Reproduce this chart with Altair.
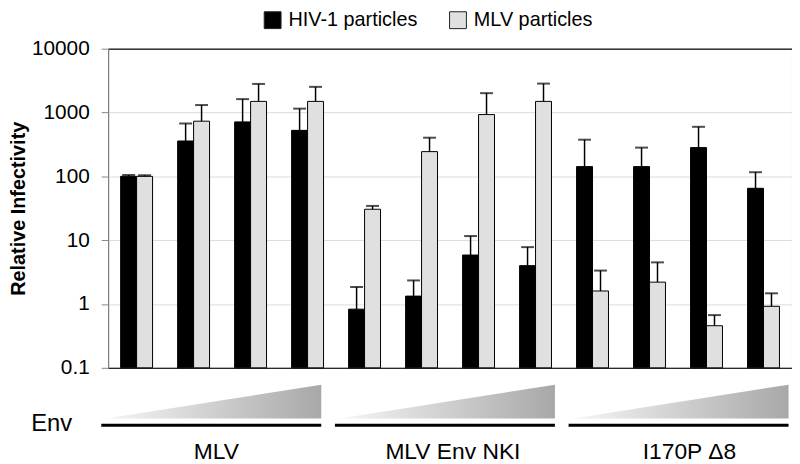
import altair as alt
import pandas as pd

# ---- data ----
env_groups = ["MLV", "MLV Env NKI", "I170P \u03948"]
doses = [1, 2, 3, 4]
series = ["HIV-1 particles", "MLV particles"]
hiv = [100, 358, 713, 525, 0.83, 1.33, 5.85, 3.99, 142, 142, 282, 65]
hiv_err = [105, 673, 1621, 1150, 1.84, 2.34, 11.6, 7.78, 375, 282, 597, 116]
mlv = [100, 731, 1493, 1493, 30.5, 244, 929, 1493, 1.60, 2.20, 0.457, 0.92]
mlv_err = [104, 1309, 2805, 2523, 34.4, 403, 2010, 2838, 3.34, 4.49, 0.67, 1.47]
y_ticks = [0.1, 1, 10, 100, 1000, 10000]

conds = [f"{g} | {d}" for g in env_groups for d in doses]
rows = []
for i, c in enumerate(conds):
    rows.append(dict(cond=c, series=series[0], value=hiv[i], err=hiv_err[i]))
    rows.append(dict(cond=c, series=series[1], value=mlv[i], err=mlv_err[i]))
df = pd.DataFrame(rows)

W, H = 690, 322
FONT = "Liberation Sans"
n_slots = len(conds)

# ---- main bars ----
xs = alt.Scale(paddingInner=0.44, paddingOuter=0.22)
x = alt.X("cond:N", sort=conds, axis=None, scale=xs)
xo = alt.XOffset("series:N", sort=series, scale=alt.Scale(paddingInner=0, paddingOuter=0))
ys = alt.Scale(type="log", domain=[0.1, 10000], nice=False)
grid_color = {"condition": {"test": "datum.value >= 10000 || datum.value <= 0.1", "value": "#222"},
              "value": "#dcdcdc"}
yaxis = alt.Axis(values=y_ticks, format="~g", title="Relative Infectivity",
                 titleFont=FONT, titleFontSize=20, titleFontWeight="bold", titleColor="black",
                 titlePadding=3, labelFont=FONT, labelFontSize=21, labelColor="black",
                 labelPadding=12, tickSize=7, tickColor="#888", domainColor="#888",
                 gridColor=grid_color, grid=True)

bars = alt.Chart(df).mark_bar(stroke="black", strokeWidth=1).encode(
    x=x, xOffset=xo,
    y=alt.Y("value:Q", scale=ys, axis=yaxis, stack=None),
    y2=alt.value(H),
    color=alt.Color("series:N", scale=alt.Scale(domain=series, range=["#000000", "#e0e0e0"]),
                    legend=alt.Legend(title=None, orient="none", legendX=156, legendY=-39,
                                      direction="horizontal", symbolType="square", symbolSize=289,
                                      symbolStrokeColor="#222", symbolStrokeWidth=1,
                                      labelFont=FONT, labelFontSize=20, labelColor="black",
                                      columnPadding=29, labelOffset=6, padding=0)),
)
rules = alt.Chart(df).mark_rule(color="black", strokeWidth=1.5).encode(
    x=x, xOffset=xo,
    y=alt.Y("value:Q", scale=ys, axis=yaxis), y2="err:Q",
)
caps = alt.Chart(df).mark_tick(color="black", thickness=2, size=13, orient="horizontal").encode(
    x=x, xOffset=xo,
    y=alt.Y("err:Q", scale=ys, axis=yaxis),
)
main = alt.layer(bars, rules, caps)

# ---- Env wedges / group lines below the plot (layout in slot units and pixels) ----
wedge_rows, line_rows, lab_rows = [], [], []
for g, name in enumerate(env_groups):
    left = 4.1 * g - 0.12
    right = 4.1 * g + 3.74
    wedge_rows.append(dict(grp=name, x=left + 0.08, top=51, bot=51))
    wedge_rows.append(dict(grp=name, x=right, top=17, bot=51))
    line_rows.append(dict(grp=name, x=left, x2=right, y=58))
    lab_rows.append(dict(grp=name, x=4.15 * g + 1.9, y=85))
wedges_df = pd.DataFrame(wedge_rows)
lines_df = pd.DataFrame(line_rows)
labs_df = pd.DataFrame(lab_rows)
env_df = pd.DataFrame([dict(t="Env", x=-0.99, y=57)])

dx = alt.Scale(domain=[0, n_slots], nice=False, zero=False)
dy = alt.Scale(domain=[0, 100], range=[H, H + 100], nice=False, zero=False)

grad = alt.Gradient(gradient="linear",
                    stops=[alt.GradientStop(color="#f6f6f6", offset=0),
                           alt.GradientStop(color="#a8a8a8", offset=1)],
                    x1=0, x2=1, y1=0, y2=0)
wedges = alt.Chart(wedges_df).mark_area(color=grad, line=False).encode(
    x=alt.X("x:Q", scale=dx, axis=None),
    y=alt.Y("top:Q", scale=dy, axis=None), y2="bot:Q",
    detail="grp:N",
)
glines = alt.Chart(lines_df).mark_rule(color="black", strokeWidth=3).encode(
    x=alt.X("x:Q", scale=dx, axis=None), x2="x2:Q",
    y=alt.Y("y:Q", scale=dy, axis=None),
)
glabels = alt.Chart(labs_df).mark_text(font=FONT, fontSize=23, color="black",
                                       baseline="middle", align="center").encode(
    x=alt.X("x:Q", scale=dx, axis=None),
    y=alt.Y("y:Q", scale=dy, axis=None),
    text="grp:N",
)
envlab = alt.Chart(env_df).mark_text(font=FONT, fontSize=24, color="black",
                                     baseline="middle", align="center").encode(
    x=alt.X("x:Q", scale=dx, axis=None),
    y=alt.Y("y:Q", scale=dy, axis=None),
    text="t:N",
)
deco = alt.layer(wedges, glines, glabels, envlab)

chart = alt.layer(main, deco).resolve_scale(x="independent", y="independent").properties(
    width=W, height=H, padding=0
).configure_view(stroke="#222", strokeWidth=1)

chart.save("out.html", embed_options={"renderer": "svg", "actions": False})
